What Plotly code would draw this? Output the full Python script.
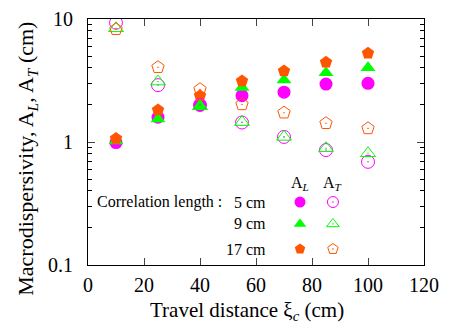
import numpy as np
import plotly.graph_objects as go

distance = [10, 25, 40, 55, 70, 85, 100]
corr_lengths = ["5 cm", "9 cm", "17 cm"]
AL_5 = [0.99, 1.59, 2.0, 2.38, 2.54, 2.96, 3.0]
AL_9 = [1.02, 1.54, 1.96, 2.78, 3.19, 3.66, 4.02]
AL_17 = [1.07, 1.82, 2.38, 3.13, 3.78, 4.45, 5.26]
AT_5 = [9.33, 2.9, 2.0, 1.44, 1.10, 0.86, 0.69]
AT_9 = [8.4, 3.1, 1.95, 1.45, 1.10, 0.89, 0.81]
AT_17 = [8.25, 4.05, 2.68, 2.02, 1.73, 1.42, 1.29]
y_ticks = [0.1, 1, 10]
y_ticklabels = ["0.1", "1", "10"]
x_ticks = [0, 20, 40, 60, 80, 100, 120]

colors = ["#FF00FF", "#00FF00", "#FF5500"]
filled = ["circle", "triangle-up", "pentagon"]
opened = ["circle-open-dot", "triangle-up-open-dot", "pentagon-open-dot"]
AL = [AL_5, AL_9, AL_17]
AT = [AT_5, AT_9, AT_17]

FONT = "Liberation Serif"

fig = go.Figure()
for i in range(3):
    fig.add_trace(go.Scatter(x=distance, y=AL[i], mode="markers",
                             marker=dict(symbol=filled[i], size=13, color=colors[i]),
                             showlegend=False))
for i in range(3):
    fig.add_trace(go.Scatter(x=distance, y=AT[i], mode="markers",
                             marker=dict(symbol=opened[i], size=13, color=colors[i],
                                         line=dict(width=1, color=colors[i])),
                             showlegend=False))

# legend key on hidden overlay axes (fractions of plot area)
key_x = [0.631, 0.729]
key_y = [0.256, 0.167, 0.065]
for i in range(3):
    fig.add_trace(go.Scatter(x=[key_x[0]], y=[key_y[i]], xaxis="x2", yaxis="y2",
                             mode="markers",
                             marker=dict(symbol=filled[i], size=11, color=colors[i]),
                             showlegend=False, hoverinfo="skip"))
    fig.add_trace(go.Scatter(x=[key_x[1]], y=[key_y[i]], xaxis="x2", yaxis="y2",
                             mode="markers",
                             marker=dict(symbol=opened[i], size=11, color=colors[i],
                                         line=dict(width=1, color=colors[i])),
                             showlegend=False, hoverinfo="skip"))

ann = []
ann.append(dict(x=key_x[0], y=0.333, text="A<sub><i>L</i></sub>"))
ann.append(dict(x=key_x[1], y=0.333, text="A<sub><i>T</i></sub>"))
for i in range(3):
    ann.append(dict(x=0.535, y=key_y[i], text=corr_lengths[i], xanchor="right"))
ann.append(dict(x=0.405, y=key_y[0], text="Correlation length :", xanchor="right"))
for a in ann:
    a.setdefault("xanchor", "center")
    a.update(xref="paper", yref="paper", yanchor="middle", showarrow=False,
             font=dict(family=FONT, size=16, color="black"))

# axis titles
ann.append(dict(x=0.473, y=-0.185, xref="paper", yref="paper", xanchor="center",
                yanchor="middle", showarrow=False,
                text="Travel distance ξ<sub><i>c</i></sub> (cm)",
                font=dict(family=FONT, size=21, color="black")))
ann.append(dict(x=-0.18, y=0.43, xref="paper", yref="paper", xanchor="center",
                yanchor="middle", showarrow=False, textangle=-90,
                text="Macrodispersivity, A<sub><i>L</i></sub>, A<sub><i>T</i></sub> (cm)",
                font=dict(family=FONT, size=22, color="black")))

minor_vals = [m * 10.0 ** e for e in (-1, 0) for m in range(2, 10)]

fig.update_layout(
    width=450, height=325,
    margin=dict(l=80, r=34, t=11, b=68, autoexpand=False),
    paper_bgcolor="white", plot_bgcolor="white",
    font=dict(family=FONT, size=20, color="black"),
    annotations=ann,
    xaxis=dict(range=[0, 120], tickvals=x_ticks, ticks="inside", ticklen=7,
               showline=True, linecolor="black", linewidth=1, mirror="ticks",
               showgrid=False, zeroline=False, automargin=False,
               ticklabelstandoff=2,
               tickfont=dict(family=FONT, size=20)),
    yaxis=dict(type="log", range=[-1, 1], tickvals=y_ticks, ticktext=y_ticklabels,
               ticks="inside", ticklen=7,
               minor=dict(tickvals=minor_vals, ticks="inside", ticklen=4,
                          tickcolor="black", showgrid=False),
               showline=True, linecolor="black", linewidth=1, mirror="ticks",
               showgrid=False, zeroline=False, automargin=False,
               ticklabelstandoff=10,
               tickfont=dict(family=FONT, size=20)),
    xaxis2=dict(overlaying="x", range=[0, 1], visible=False, fixedrange=True),
    yaxis2=dict(overlaying="y", range=[0, 1], visible=False, fixedrange=True),
)

fig.write_html("out.html")
